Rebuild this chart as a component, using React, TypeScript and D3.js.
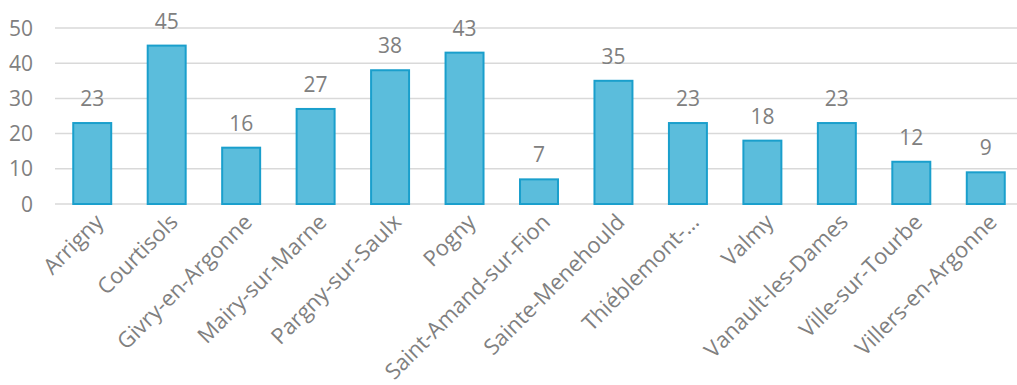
import React from "react";
import * as d3 from "d3";

const categories = [
  "Arrigny",
  "Courtisols",
  "Givry-en-Argonne",
  "Mairy-sur-Marne",
  "Pargny-sur-Saulx",
  "Pogny",
  "Saint-Amand-sur-Fion",
  "Sainte-Menehould",
  "Thiéblemont-…",
  "Valmy",
  "Vanault-les-Dames",
  "Ville-sur-Tourbe",
  "Villers-en-Argonne",
];
const values = [23, 45, 16, 27, 38, 43, 7, 35, 23, 18, 23, 12, 9];
const yTicks = [0, 10, 20, 30, 40, 50];

const W = 1017;
const H = 385;
const left = 55;
const right = 1023;
const top = 28;
const bottom = 204;
const font = "'Open Sans', 'Noto Sans', sans-serif";
const gray = "#808080";

export default function App() {
  const x = d3
    .scaleBand<string>()
    .domain(categories)
    .range([left, right])
    .paddingInner(0.49)
    .paddingOuter(0.245);
  const y = d3.scaleLinear().domain([0, 50]).range([bottom, top]);

  return (
    <svg
      width={W}
      height={H}
      style={{ position: "absolute", left: 0, top: 0 }}
      fontFamily={font}
    >
      <rect width={W} height={H} fill="#fff" />
      {yTicks.map((t) => (
        <g key={t}>
          <line
            x1={left}
            x2={W}
            y1={y(t)}
            y2={y(t)}
            stroke="#d9d9d9"
            strokeWidth={1.5}
          />
          <text
            x={33}
            y={y(t)}
            dy="0.36em"
            textAnchor="end"
            fontSize={21}
            fill={gray}
          >
            {t}
          </text>
        </g>
      ))}
      {categories.map((c, i) => {
        const bx = x(c)!;
        const bw = x.bandwidth();
        const cx = bx + bw / 2;
        return (
          <g key={c}>
            <rect
              x={bx}
              y={y(values[i])}
              width={bw}
              height={y(0) - y(values[i])}
              fill="#5bbddc"
              stroke="#1a9fcc"
              strokeWidth={2}
            />
            <text
              x={cx}
              y={y(values[i]) - 17}
              textAnchor="middle"
              fontSize={21}
              fill={gray}
            >
              {values[i]}
            </text>
            <text
              transform={`translate(${cx + 7},${bottom + 14}) rotate(-45)`}
              textAnchor="end"
              dy="0.35em"
              fontSize={22}
              fill={gray}
            >
              {c}
            </text>
          </g>
        );
      })}
    </svg>
  );
}
